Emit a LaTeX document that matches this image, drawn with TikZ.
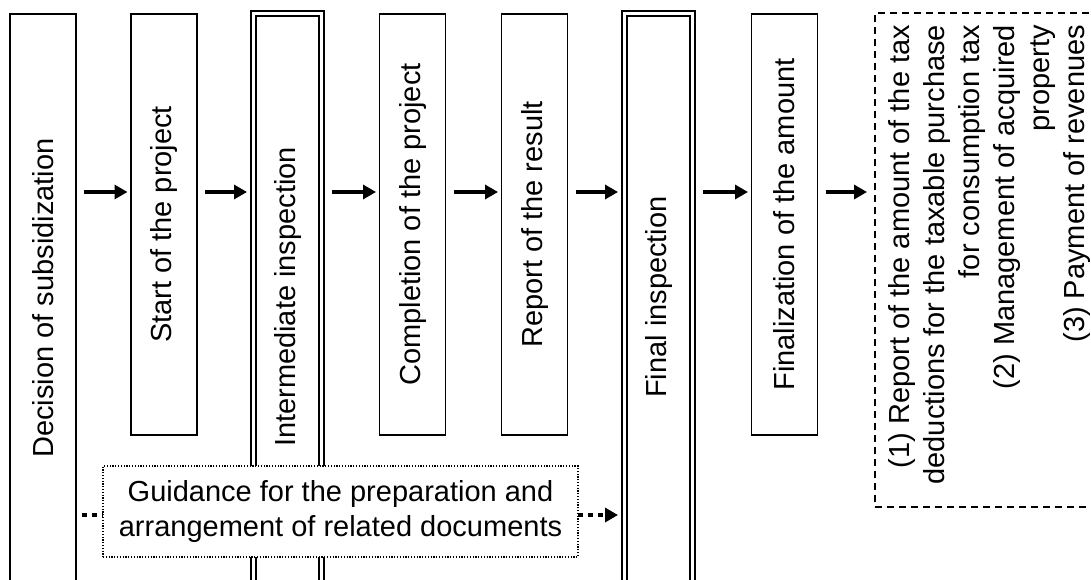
\documentclass[tikz,border=0pt]{standalone}
\usepackage{fontspec}
\setmainfont{Liberation Sans}
\usepackage{graphicx}
\usetikzlibrary{arrows.meta,calc}
\begin{document}
\begin{tikzpicture}[x=1pt,y=-1pt,
  bigfont/.style={font=\fontsize{29}{35}\selectfont},
  txt/.style={bigfont, inner sep=0pt, outer sep=0pt},
  stagebox/.style={draw, line width=1.8pt, minimum width=66pt, inner sep=0pt, outer sep=0pt, bigfont},
  dblbox/.style={draw, line width=2pt, double, double distance=3pt, minimum width=68pt, inner sep=0pt, outer sep=0pt},
  flow/.style={line width=3.5pt, -{Triangle[length=13pt,width=14pt]}},
  dotflow/.style={line width=4pt, dash pattern=on 5pt off 5pt},
  guide/.style={draw, line width=1.2pt, dash pattern=on 1.2pt off 1.6pt, fill=white, align=center, inner sep=0pt, outer sep=0pt, bigfont},
  result/.style={draw, line width=1.3pt, dash pattern=on 7pt off 5pt, inner sep=0pt, outer sep=0pt}
]
\clip (0,0) rectangle (1091,580);
\fill[white] (0,0) rectangle (1091,580);

% stage boxes
\node[stagebox, minimum height=568pt] (b1) at (42.7,298) {\rotatebox{90}{Decision of subsidization}};
\node[stagebox, minimum height=421pt] (b2) at (164,224.5) {\rotatebox{90}{Start of the project}};
\node[dblbox, minimum height=576.5pt] (b3) at (287.5,301.75) {};
\node[txt] (t3) at (287.5,297) {\rotatebox{90}{Intermediate inspection}};
\node[stagebox, minimum height=421pt] (b4) at (412.5,224.5) {\rotatebox{90}{Completion of the project}};
\node[stagebox, minimum height=421pt] (b5) at (534.5,224.5) {\rotatebox{90}{Report of the result}};
\node[dblbox, minimum height=576.5pt] (b6) at (658.5,301.75) {};
\node[txt] (t6) at (658.5,297) {\rotatebox{90}{Final inspection}};
\node[stagebox, minimum height=421pt] (b7) at (784.5,224.5) {\rotatebox{90}{Finalization of the amount}};

% result box
\node[result, minimum width=226pt, minimum height=494pt] (res) at (988,260) {};
\node[txt, anchor=north] (t8) at (990,25) {\rotatebox{90}{\begin{tabular}{@{}r@{}}
(1) Report of the amount of the tax\\
deductions for the taxable purchase\\
for consumption tax\\
(2) Management of acquired\\
property\\
(3) Payment of revenues
\end{tabular}}};

% guidance box
\node[guide, minimum width=475pt, minimum height=91pt] (g) at (340.5,511.5)
  {Guidance for the preparation and\\arrangement of related documents};

% flow arrows
\coordinate (ay) at (0,192);
\draw[flow] ($(b1.east|-ay)+(8,0)$) -- ($(b2.west|-ay)+(-3.5,0)$);
\draw[flow] ($(b2.east|-ay)+(8,0)$) -- ($(b3.west|-ay)+(-6.5,0)$);
\draw[flow] ($(b3.east|-ay)+(10.5,0)$) -- ($(b4.west|-ay)+(-3.5,0)$);
\draw[flow] ($(b4.east|-ay)+(8,0)$) -- ($(b5.west|-ay)+(-3.5,0)$);
\draw[flow] ($(b5.east|-ay)+(8,0)$) -- ($(b6.west|-ay)+(-6.5,0)$);
\draw[flow] ($(b6.east|-ay)+(10.5,0)$) -- ($(b7.west|-ay)+(-3.5,0)$);
\draw[flow] ($(b7.east|-ay)+(8,0)$) -- ($(res.west|-ay)+(-8,0)$);

% guidance dotted connectors
\coordinate (gy) at (0,515);
\draw[dotflow] ($(b1.east|-gy)+(6,0)$) -- (g.west|-gy);
\draw[dotflow, -{Triangle[length=13pt,width=14pt]}] (g.east|-gy) -- ($(b6.west|-gy)+(-6.5,0)$);
\end{tikzpicture}
\end{document}
